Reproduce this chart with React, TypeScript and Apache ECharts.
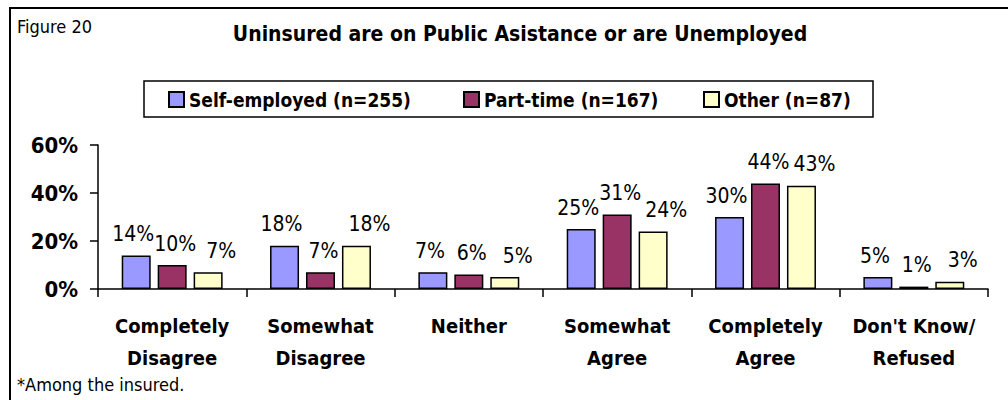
import React, { useEffect, useRef } from "react";
import * as echarts from "echarts";

const categories = [
  "Completely\nDisagree",
  "Somewhat\nDisagree",
  "Neither",
  "Somewhat\nAgree",
  "Completely\nAgree",
  "Don't Know/\nRefused",
];
const selfEmployed = [14, 18, 7, 25, 30, 5];
const partTime = [10, 7, 6, 31, 44, 1];
const other = [7, 18, 5, 24, 43, 3];
const seriesNames = ["Self-employed (n=255)", "Part-time (n=167)", "Other (n=87)"];
const seriesColors = ["#9999FF", "#993366", "#FFFFCC"];
const yTicks = [0, 20, 40, 60];

const FONT = "Tahoma, 'DejaVu Sans Condensed', 'DejaVu Sans', sans-serif";

export default function App() {
  const ref = useRef<HTMLDivElement>(null);
  useEffect(() => {
    if (!ref.current) return;
    const chart = echarts.init(ref.current, null, { renderer: "svg" });
    const values = [selfEmployed, partTime, other];
    const legendLefts = [168, 463, 703];
    const labelShift = [-3, 3, 13];
    chart.setOption({
      animation: false,
      backgroundColor: "#fff",
      textStyle: { fontFamily: FONT, color: "#000" },
      title: [
        {
          text: "Uninsured are on Public Asistance or are Unemployed",
          left: 515,
          textAlign: "center",
          top: 18,
          textStyle: { fontFamily: FONT, fontSize: 21, fontWeight: "bold", color: "#000" },
        },
      ],
      legend: seriesNames.map((name, i) => ({
        left: legendLefts[i],
        top: 90,
        padding: 0,
        icon: "rect",
        itemWidth: 15,
        itemHeight: 15,
        textStyle: { fontFamily: FONT, fontSize: 19, fontWeight: "bold", color: "#000" },
        data: [name],
      })),
      grid: { left: 98, right: 20, top: 145, bottom: 111, containLabel: false },
      xAxis: {
        type: "category",
        data: categories,
        axisLine: { lineStyle: { color: "#000", width: 1.5 } },
        axisTick: { show: true, length: 8, lineStyle: { color: "#000", width: 1.5 } },
        axisLabel: {
          interval: 0,
          margin: 21,
          lineHeight: 32,
          fontFamily: FONT,
          fontSize: 20,
          fontWeight: "bold",
          color: "#000",
        },
      },
      yAxis: {
        type: "value",
        min: 0,
        max: 60,
        interval: 20,
        splitLine: { show: false },
        axisLine: { show: true, lineStyle: { color: "#000", width: 1.5 } },
        axisTick: { show: true, length: 8, lineStyle: { color: "#000", width: 1.5 } },
        axisLabel: {
          margin: 20,
          fontFamily: FONT,
          fontSize: 22,
          fontWeight: "bold",
          color: "#000",
          formatter: (v: number) => (yTicks.includes(v) ? v + "%" : ""),
        },
      },
      series: seriesNames.map((name, i) => ({
        name,
        type: "bar",
        data: values[i],
        barWidth: 29,
        barGap: "24%",
        itemStyle: { color: seriesColors[i], borderColor: "#000", borderWidth: 1.5 },
        label: {
          show: true,
          position: "top",
          distance: 11,
          offset: [labelShift[i], 0],
          fontFamily: FONT,
          fontSize: 21,
          color: "#000",
          formatter: (p: any) => p.value + "%",
        },
      })),
      graphic: [
        {
          type: "rect",
          shape: { x: 10, y: 8, width: 1010, height: 420 },
          style: { fill: "none", stroke: "#000", lineWidth: 2 },
          silent: true,
        },
        {
          type: "rect",
          shape: { x: 144, y: 81, width: 729, height: 36 },
          style: { fill: "none", stroke: "#000", lineWidth: 1.5 },
          silent: true,
        },
        {
          type: "text",
          left: 17,
          top: 17,
          style: { text: "Figure 20", fontFamily: FONT, fontSize: 18, fill: "#000" },
        },
        {
          type: "text",
          left: 17,
          top: 375,
          style: { text: "*Among the insured.", fontFamily: FONT, fontSize: 18, fill: "#000" },
        },
      ],
    });
    return () => chart.dispose();
  }, []);
  return (
    <div
      ref={ref}
      style={{ position: "fixed", left: 0, top: 0, width: 1008, height: 400 }}
    />
  );
}
